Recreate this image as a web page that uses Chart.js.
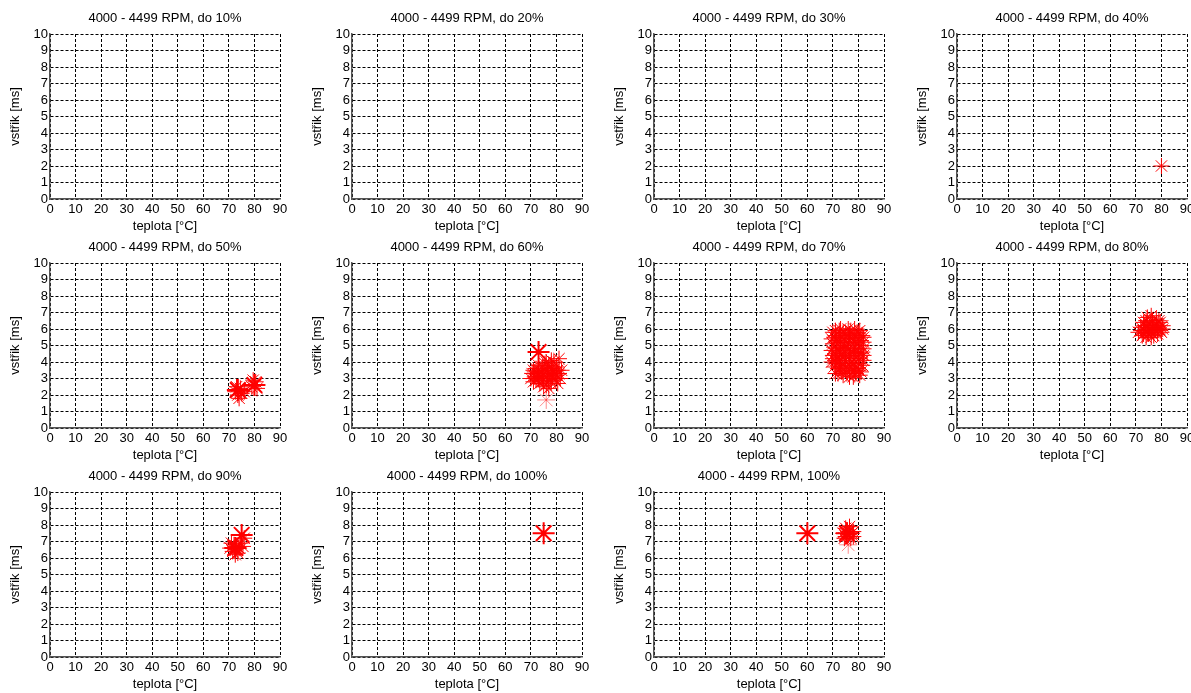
<!DOCTYPE html>
<html>
<head>
<meta charset="utf-8">
<script src="https://cdn.jsdelivr.net/npm/chart.js@4"></script>
<style>
  html, body { margin: 0; padding: 0; background: #fff; overflow: hidden; }
  #page { position: relative; width: 1191px; height: 693px; overflow: hidden; }
  #page canvas { position: absolute; }
</style>
</head>
<body>
<div id="page"></div>
<script>
// tick labels and texts
const xTicks = [0, 10, 20, 30, 40, 50, 60, 70, 80, 90];
const yTicks = [0, 1, 2, 3, 4, 5, 6, 7, 8, 9, 10];
const xLabel = "teplota [°C]";
const yLabel = "vstřik [ms]";
const titles = [
    "4000 - 4499 RPM, do 10%", "4000 - 4499 RPM, do 20%", "4000 - 4499 RPM, do 30%",
    "4000 - 4499 RPM, do 40%", "4000 - 4499 RPM, do 50%", "4000 - 4499 RPM, do 60%",
    "4000 - 4499 RPM, do 70%", "4000 - 4499 RPM, do 80%", "4000 - 4499 RPM, do 90%",
    "4000 - 4499 RPM, do 100%", "4000 - 4499 RPM, 100%"
];

// measured points [teplota, vstrik]
const p40 = [[80, 2.0]];

const p50 = [[72.5, 2.2], [73.5, 2.0], [74.5, 2.4], [75, 2.1], [73, 2.5], [76, 2.2], [74, 1.8],
    [79, 2.5], [80.5, 2.8], [81, 2.4], [79.5, 2.9]];
const p50big = [[73.5, 2.3], [80, 2.6]];

const p60 = [[70, 3.0], [70.5, 3.3], [71, 2.8], [71, 3.5], [71.5, 3.1], [72, 3.6], [72, 2.9],
    [72.5, 3.3], [73, 3.0], [73, 3.8], [73.5, 2.7], [74, 3.4], [74, 3.1], [74.5, 3.7], [75, 2.9],
    [75, 3.3], [75.5, 3.9], [76, 3.1], [76, 2.6], [76.5, 3.5], [77, 3.0], [77, 3.8], [77.5, 3.3],
    [78, 2.8], [78, 3.6], [78.5, 3.1], [79, 3.4], [79, 4.0], [79.5, 2.9], [80, 3.2], [80, 3.7],
    [80.5, 2.7], [81, 3.3], [81, 4.2], [81.5, 3.0], [82, 3.5], [78, 4.1], [76, 4.0], [75, 2.5], [77, 2.4],
    [71.5, 3.4], [73, 3.3], [74.5, 3.0], [76.5, 3.2], [77.5, 2.9], [79.5, 3.3], [80.5, 3.5],
    [72.5, 3.1], [75.5, 3.5], [78.5, 3.4]];
const p60big = [[73, 4.6]];
const p60faint = [[76, 1.7]];

const p70 = [[70, 5.8], [72.5, 5.9], [75, 5.7], [77, 5.9], [79.5, 5.8], [81.5, 5.6],
    [69.5, 5.4], [71, 5.6], [73.5, 5.5], [76, 5.4], [78, 5.6], [80.5, 5.3], [82, 5.5],
    [70, 5.1], [72, 5.2], [74.5, 5.0], [77, 5.2], [79, 5.1], [81, 5.0],
    [69.5, 4.7], [71.5, 4.8], [73, 4.9], [75.5, 4.7], [78, 4.8], [80, 4.6], [82, 4.8],
    [70, 4.4], [72, 4.3], [74, 4.5], [76.5, 4.4], [79, 4.3], [81, 4.5],
    [69.5, 4.0], [71, 4.1], [73.5, 3.9], [75, 4.1], [77.5, 4.0], [80, 3.9], [82, 4.1],
    [70.5, 3.7], [72.5, 3.6], [75, 3.5], [77, 3.7], [79, 3.6], [81, 3.4],
    [71, 3.3], [74, 3.2], [76.5, 3.1], [79, 3.3], [80.5, 3.2], [73, 6.0], [78.5, 6.0],
    [70.5, 5.5], [71.5, 5.3], [72.5, 5.6], [73, 5.2], [74, 5.8], [74.5, 5.4], [75.5, 5.2],
    [76.5, 5.7], [77.5, 5.4], [78.5, 5.2], [79, 5.5], [80, 5.7], [81, 5.3], [82, 5.2],
    [70.5, 4.9], [71, 4.5], [72.5, 4.6], [73.5, 4.3], [74, 4.8], [75, 4.4], [76, 4.9],
    [77, 4.6], [78.5, 4.5], [79.5, 4.8], [80.5, 4.2], [81.5, 4.6],
    [70, 4.2], [71.5, 3.9], [72.5, 4.1], [73, 3.7], [74.5, 3.8], [76, 3.8], [76.5, 4.2],
    [78, 3.9], [78.5, 3.5], [80, 3.5], [81.5, 3.8], [82, 4.4],
    [72, 3.3], [73.5, 3.4], [75.5, 3.3], [77.5, 3.4], [78, 3.1], [71, 5.9], [76, 6.0], [80.5, 5.9]];

const p80 = [[71, 5.8], [72, 6.1], [72.5, 5.6], [73, 6.4], [73.5, 5.9], [74, 6.2], [74, 5.5],
    [74.5, 6.7], [75, 6.0], [75, 5.7], [75.5, 6.3], [76, 5.8], [76.5, 6.5], [77, 6.1], [77, 5.6],
    [77.5, 5.9], [78, 6.3], [78.5, 5.7], [79, 6.0], [79.5, 6.4], [80, 5.8], [80.5, 6.2],
    [76, 6.8], [73, 5.7], [78, 6.6],
    [72, 5.9], [73.5, 6.2], [74.5, 5.8], [75.5, 6.0], [76.5, 6.1], [77.5, 6.2], [78.5, 6.0],
    [79.5, 5.9], [74, 6.5], [76, 5.5], [79, 6.5], [80.5, 6.0]];

const p90 = [[70.5, 6.6], [71.5, 6.4], [72, 6.8], [72.5, 6.5], [73, 6.7], [73.5, 6.3], [74, 6.6],
    [71, 6.9], [74.5, 6.9], [75.5, 6.7], [76, 7.2], [72.5, 6.2]];
const p90big = [[75, 7.4], [72.5, 6.6]];

const p100big = [[75, 7.5]];

const pFull = [[74, 7.5], [75, 7.3], [75.5, 7.7], [76, 7.4], [76.5, 7.6], [77, 7.2], [77.5, 7.5],
    [78, 7.3], [75, 7.8], [76.5, 7.9], [74.5, 7.2], [78, 7.6]];
const pFullBig = [[60, 7.5], [75.5, 7.5]];
const pFullFaint = [[76, 6.8]];

// one entry per subplot: [small, big, faint]
const series = [
    [[], [], []], [[], [], []], [[], [], []], [p40, [], []],
    [p50, p50big, []], [p60, p60big, p60faint], [p70, [], []], [p80, [], []],
    [p90, p90big, []], [[], p100big, []], [pFull, pFullBig, pFullFaint]
];

// layout of the grid
const colLeft = [50, 352, 654, 957];
const rowTop = [34, 263, 492];
const font = "'Liberation Sans', Arial, sans-serif";

const page = document.getElementById("page");

function toXY(list) {
    return list.map(function (p) { return { x: p[0], y: p[1] }; });
}

function makeChart(i) {
    const col = i % 4;
    const row = Math.floor(i / 4);
    const cv = document.createElement("canvas");
    cv.width = 300;
    cv.height = 235;
    cv.style.left = (colLeft[col] - 50) + "px";
    cv.style.top = (rowTop[row] - 34) + "px";
    page.appendChild(cv);

    const s = series[i];

    new Chart(cv.getContext("2d"), {
        type: "scatter",
        data: {
            datasets: [{
                data: toXY(s[0]),
                pointStyle: "star",
                pointRadius: 8,
                borderColor: "#ff0000",
                pointBorderWidth: 1
            }, {
                data: toXY(s[1]),
                pointStyle: "star",
                pointRadius: 11,
                borderColor: "#ff0000",
                pointBorderWidth: 2
            }, {
                data: toXY(s[2]),
                pointStyle: "star",
                pointRadius: 9,
                borderColor: "rgba(255,0,0,0.45)",
                pointBorderWidth: 1
            }]
        },
        options: {
            responsive: false,
            animation: false,
            events: [],
            devicePixelRatio: 1,
            layout: { padding: { left: 0, right: 20, top: 0, bottom: 0 } },
            plugins: {
                legend: { display: false },
                tooltip: { enabled: false },
                title: {
                    display: true,
                    text: titles[i],
                    fullSize: false,
                    color: "#000",
                    font: { family: font, size: 13, weight: "normal" },
                    padding: { top: 11, bottom: 7.4 }
                }
            },
            scales: {
                x: {
                    type: "linear",
                    min: 0,
                    max: 90,
                    afterBuildTicks: function (sc) { sc.ticks = xTicks.map(function (v) { return { value: v }; }); },
                    afterFit: function (sc) { sc.height = 36; },
                    ticks: { color: "#000", font: { family: font, size: 13 }, padding: 3, maxRotation: 0, autoSkip: false },
                    grid: { color: "#000", lineWidth: 1, drawTicks: false },
                    border: { display: true, color: "#555", width: 1.5, dash: [3, 2] },
                    title: { display: true, text: xLabel, color: "#000", font: { family: font, size: 13 }, padding: { top: 0, bottom: 1 } }
                },
                y: {
                    type: "linear",
                    min: 0,
                    max: 10,
                    afterBuildTicks: function (sc) { sc.ticks = yTicks.map(function (v) { return { value: v }; }); },
                    afterFit: function (sc) { sc.width = 50; },
                    ticks: { color: "#000", font: { family: font, size: 13 }, padding: 2, autoSkip: false },
                    grid: { color: "#000", lineWidth: 1, drawTicks: false },
                    border: { display: true, color: "#555", width: 1.5, dash: [3, 2] },
                    title: { display: true, text: yLabel, color: "#000", font: { family: font, size: 13 }, padding: { top: 8, bottom: 0 } }
                }
            }
        }
    });
}

for (let i = 0; i < titles.length; i++) {
    makeChart(i);
}
</script>
</body>
</html>
